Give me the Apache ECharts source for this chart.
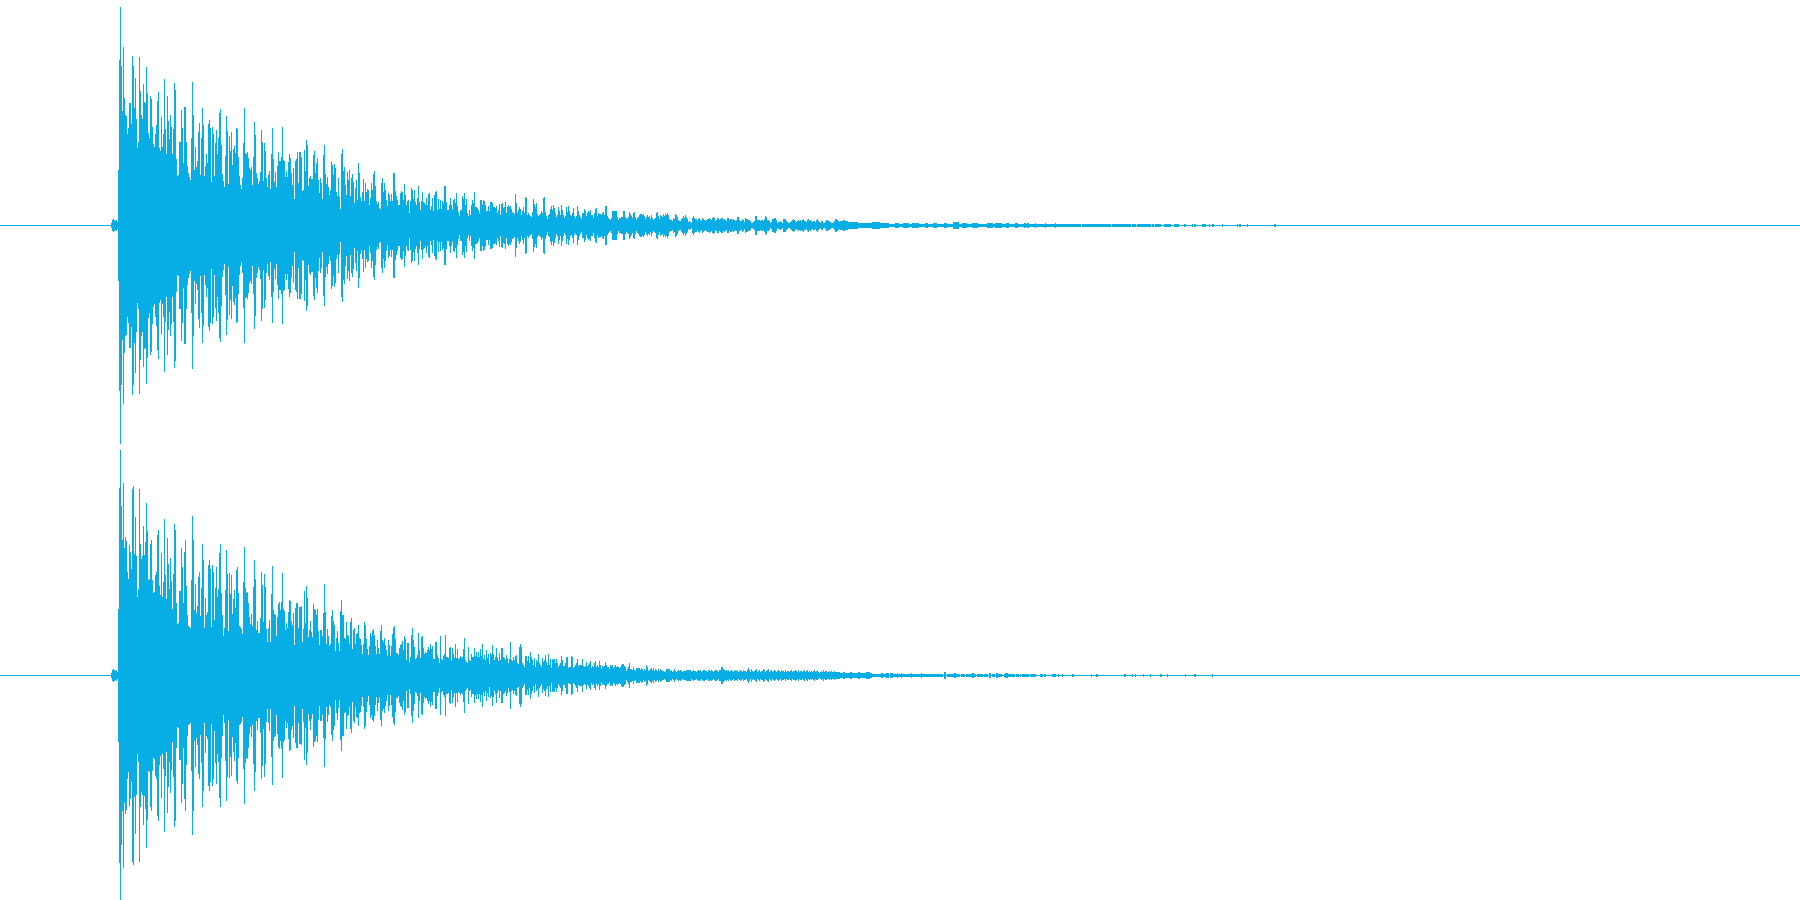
<!DOCTYPE html>
<html><head><meta charset="utf-8">
<script src="https://cdn.jsdelivr.net/npm/echarts@6/dist/echarts.min.js"></script>
<style>html,body{margin:0;padding:0;background:#fff}#c{width:1800px;height:900px}</style>
</head><body><div id="c"></div>
<script>
const columnCount = 1800;
const headStart = 111;
const channelOnePeaks = [
2,5,6,5,4,5,3,55,165,
218,159,114,178,127,110,109,91,97,122,
122,101,169,159,117,147,106,77,83,168,
134,110,106,141,123,122,158,132,92,87,
129,126,98,81,78,91,100,124,133,77,
74,108,78,91,146,96,71,129,104,86,
110,98,71,96,142,135,66,49,50,83,
83,115,97,62,118,118,83,59,52,48,
45,87,143,110,55,78,58,64,93,102,
50,87,117,100,49,59,71,62,101,105,
97,43,98,91,49,82,95,71,87,112,
116,80,51,44,38,69,109,94,41,89,
74,93,60,76,79,72,97,96,68,49,
40,36,47,82,117,72,71,73,67,57,
55,58,40,68,103,90,52,47,41,44,
53,95,83,44,82,74,47,38,50,54,
36,71,97,66,43,53,38,59,73,64,
64,68,98,65,64,48,54,48,63,71,
67,52,40,57,26,64,66,73,42,73,
73,68,34,35,75,54,85,80,39,47,
49,46,46,70,74,52,62,67,45,32,
47,42,26,70,80,51,41,48,38,30,
35,63,60,50,61,57,33,29,47,28,
16,71,76,54,58,40,30,53,45,55,
29,47,51,43,22,37,45,25,62,52,
28,24,33,46,24,42,33,36,35,20,
27,42,35,51,54,39,24,21,23,17,
16,42,47,33,42,35,25,19,32,30,
24,31,24,52,52,34,29,25,20,20,
32,34,33,25,41,30,20,24,25,12,
24,37,35,26,35,23,20,27,39,23,
15,24,33,23,22,20,27,20,31,32,
15,19,27,14,30,33,34,15,26,16,
25,16,24,22,39,39,23,15,15,20,
27,20,16,25,26,22,32,19,13,9,
15,15,29,26,32,20,26,12,9,15,
10,20,25,22,33,18,18,17,15,12,
25,25,20,25,24,20,14,14,19,14,
23,23,22,18,18,17,19,12,15,21,
10,21,22,17,18,23,12,18,20,18,
19,16,13,12,11,31,22,12,15,18,
16,10,14,18,12,28,27,10,12,10,
9,8,13,26,21,18,22,11,9,10,
11,14,12,27,28,13,9,6,10,11,
16,19,15,20,17,12,8,10,18,14,
10,20,15,10,7,9,18,13,19,14,
10,9,12,17,9,7,9,19,14,10,
8,6,12,12,16,14,9,12,14,13,
15,10,10,7,12,16,17,9,12,11,
11,10,12,13,10,19,19,9,7,6,
5,7,14,14,14,14,14,8,5,7,
7,8,8,14,14,8,6,7,8,13,
11,9,7,12,13,8,5,7,8,10,
11,11,10,11,9,6,8,10,8,9,
6,10,7,5,6,7,12,13,9,6,
10,9,8,11,9,11,10,12,10,6,
5,5,4,7,6,11,10,8,5,4,
4,6,7,9,7,10,8,6,3,4,
3,2,7,9,7,6,6,4,6,7,
5,4,7,6,5,4,5,6,6,7,
6,5,7,8,7,4,5,7,7,5,
6,7,7,5,6,5,4,7,7,5,
6,6,5,6,5,4,5,8,8,5,
4,4,6,5,3,7,6,6,5,5,
4,2,2,3,4,9,9,5,5,5,
4,5,5,4,6,9,8,5,5,4,
2,3,6,6,7,7,5,2,3,3,
4,3,2,6,6,6,4,3,2,2,
3,4,5,6,5,4,3,4,5,4,
5,4,5,6,4,4,3,5,6,4,
5,4,3,4,4,3,5,6,4,3,
2,4,4,2,2,3,5,5,4,4,
3,2,2,2,4,6,6,5,4,3
];
const channelTwoPeaks = [
2,5,6,5,4,5,3,66,187,
225,169,135,192,127,138,134,103,96,130,
123,106,186,189,121,158,119,78,86,186,
131,116,119,149,120,133,172,144,95,96,
131,135,95,82,83,100,103,140,145,89,
80,122,78,93,156,100,76,137,111,86,
117,94,66,101,151,145,72,51,52,84,
84,127,108,72,123,135,89,60,49,48,
47,95,159,135,65,91,62,69,98,103,
59,87,131,115,47,77,60,63,110,115,
106,48,110,103,55,87,108,78,86,122,
131,82,60,39,47,85,125,101,44,102,
81,100,61,76,85,67,105,108,82,49,
48,46,41,93,128,87,82,83,72,58,
51,61,49,88,115,96,45,54,42,42,
57,103,90,53,101,88,46,33,47,55,
33,81,109,65,61,60,39,58,71,73,
65,73,102,66,64,45,52,47,63,75,
74,54,50,62,30,67,72,72,47,68,
68,69,33,46,84,52,89,77,38,45,
54,43,38,71,66,65,60,66,44,30,
45,45,39,62,91,63,31,46,39,29,
31,59,65,54,50,24,37,44,32,24,
64,75,60,60,37,36,53,40,39,31,
53,57,26,45,47,31,41,42,50,37,
36,30,21,31,53,50,36,26,20,29,
42,39,44,46,40,29,21,35,27,21,
44,50,35,33,37,30,25,19,35,30,
19,29,41,47,49,36,22,22,20,27,
30,31,34,25,39,36,15,32,32,13,
18,40,47,35,28,16,17,20,42,25,
17,38,39,27,21,23,22,25,28,25,
31,26,29,16,16,33,33,20,17,12,
39,16,15,19,21,40,18,18,17,27,
28,14,27,21,17,31,17,26,16,17,
19,17,18,26,37,15,13,12,28,15,
14,21,18,18,27,19,23,18,23,18,
26,19,31,16,20,15,25,17,21,11,
22,20,30,21,15,18,27,17,14,22,
15,27,27,18,17,15,20,17,12,16,
33,15,14,18,15,19,20,12,11,28,
31,28,12,10,8,19,19,14,19,12,
23,18,15,10,17,8,15,13,21,12,
10,8,17,13,15,20,13,10,21,10,
16,7,16,15,16,12,16,12,8,10,
12,19,15,9,9,12,18,18,7,8,
8,19,18,7,8,10,12,16,9,10,
10,10,16,9,8,9,13,8,10,12,
14,7,9,8,12,14,8,10,8,14,
10,6,9,8,9,13,10,8,8,6,
10,9,10,7,8,10,8,9,8,7,
8,10,11,11,9,8,4,6,8,12,
6,6,5,8,5,4,7,7,7,7,
5,7,6,4,6,5,10,8,4,5,
6,7,5,7,4,6,5,4,6,4,
6,5,4,4,3,4,6,6,6,6,
4,5,3,4,6,4,3,4,5,4,
5,4,3,4,4,4,5,5,5,5,
5,3,4,5,4,4,3,4,5,4,
5,3,4,5,5,4,4,3,5,5,
4,5,4,3,4,5,5,4,3,5,
5,8,8,6,5,4,5,4,5,3,
4,5,4,3,5,4,4,5,3,4,
5,4,3,5,4,4,3,5,7,5,
3,6,4,3,4,5,6,3,4,5,
3,4,4,6,5,3,4,5,6,3,
4,5,3,4,5,4,3,4,5,4,
3,5,4,4,3,5,3,4,4,3,
4,5,3,4,4,5,4,3,5,3,
4,4,3,4,5,3,4,5,3,4,
3,4,3,4,5,3,4,4,3,2,
3,4,3,5,3,4,4,3,3,4,
3,4,3,3,4,3,3,3,3,3
];
// quiet tail: [from column, to column, peak]; later runs overwrite earlier ones
const channelOneTail = [
[889,1056,1],
[840,843,4],[843,845,5],[845,848,4],[848,852,3],[852,858,3],[858,872,2],[872,880,3],[880,889,2],[895,899,2],
[903,909,2],[912,919,2],[925,928,2],[933,937,2],[944,947,2],[953,959,3],
[962,967,2],[972,978,2],[987,993,2],[995,1002,2],[1006,1009,2],[1015,1018,2],[1024,1026,2],[1027,1029,2],
[1035,1036,2],[1045,1046,2],[1055,1056,2],[1056,1081,1],[1082,1111,1],[1112,1131,1],[1132,1136,1],[1137,1151,1],
[1152,1154,1],[1155,1161,1],[1164,1171,1],[1174,1179,1],[1184,1186,1],[1192,1193,1],[1194,1196,1],[1202,1206,1],[1209,1210,1],
[1212,1214,1],[1222,1223,1],[1237,1238,1],[1239,1241,1],[1247,1248,1],[1274,1276,1]
];
const channelTwoTail = [
[840,843,2],[843,845,3],[845,850,2],[850,852,3],[852,858,2],[858,860,3],[860,866,2],[866,870,3],[870,872,2],
[872,881,1],[881,883,2],[883,886,1],[886,889,2],[890,893,2],[893,897,1],[897,898,2],[898,901,1],[901,902,2],[902,911,1],
[911,912,2],[912,921,1],[921,922,2],[922,943,1],[944,946,3],[947,954,1],[954,956,2],[956,960,1],[961,965,1],[966,972,1],
[972,974,2],[974,976,1],[977,983,1],[984,988,1],[989,991,2],[992,995,1],[996,998,2],[998,1002,1],[1004,1005,1],[1005,1008,2],
[1008,1015,1],[1016,1019,1],[1020,1021,1],[1022,1029,1],[1030,1036,1],[1040,1043,1],[1044,1046,1],[1052,1056,1],[1058,1059,1],
[1062,1063,1],[1072,1074,1],[1091,1092,1],[1096,1098,1],[1124,1126,1],[1132,1133,1],[1135,1136,1],[1143,1144,1],[1150,1151,1],
[1160,1162,1],[1167,1168,1],[1185,1186,1],[1194,1196,1],[1212,1213,1]
];
const waveColor = '#07ade5';

function columns(peaks, tail) {
  const full = new Array(columnCount).fill(0);
  peaks.forEach((p, i) => { full[headStart + i] = p; });
  tail.forEach(([a, b, p]) => { for (let x = a; x < b; x++) full[x] = p; });
  return full.map((p, x) => [x, p + 0.5]);
}
function renderColumn(params, api) {
  const x = api.value(0), v = api.value(1);
  const a = api.coord([x, v]), b = api.coord([x + 1, -v]);
  return { type: 'rect', shape: { x: a[0], y: a[1], width: b[0] - a[0], height: b[1] - a[1] },
           style: { fill: waveColor } };
}
const chart = echarts.init(document.getElementById('c'), null, { renderer: 'canvas' });
const hiddenX = gi => ({ type: 'value', gridIndex: gi, min: 0, max: columnCount, show: false });
chart.setOption({
  animation: false,
  backgroundColor: '#ffffff',
  grid: [
    { left: 0, right: 0, top: 0, height: 451 },
    { left: 0, right: 0, top: 450, height: 450 }
  ],
  xAxis: [hiddenX(0), hiddenX(1)],
  yAxis: [
    { type: 'value', gridIndex: 0, min: -225.5, max: 225.5, show: false },
    { type: 'value', gridIndex: 1, min: -224.5, max: 225.5, show: false }
  ],
  series: [
    { name: 'Channel 1', type: 'custom', xAxisIndex: 0, yAxisIndex: 0, silent: true, clip: true, progressive: 0,
      renderItem: renderColumn, encode: { x: 0, y: 1 }, data: columns(channelOnePeaks, channelOneTail) },
    { name: 'Channel 2', type: 'custom', xAxisIndex: 1, yAxisIndex: 1, silent: true, clip: true, progressive: 0,
      renderItem: renderColumn, encode: { x: 0, y: 1 }, data: columns(channelTwoPeaks, channelTwoTail) }
  ]
});
</script></body></html>
